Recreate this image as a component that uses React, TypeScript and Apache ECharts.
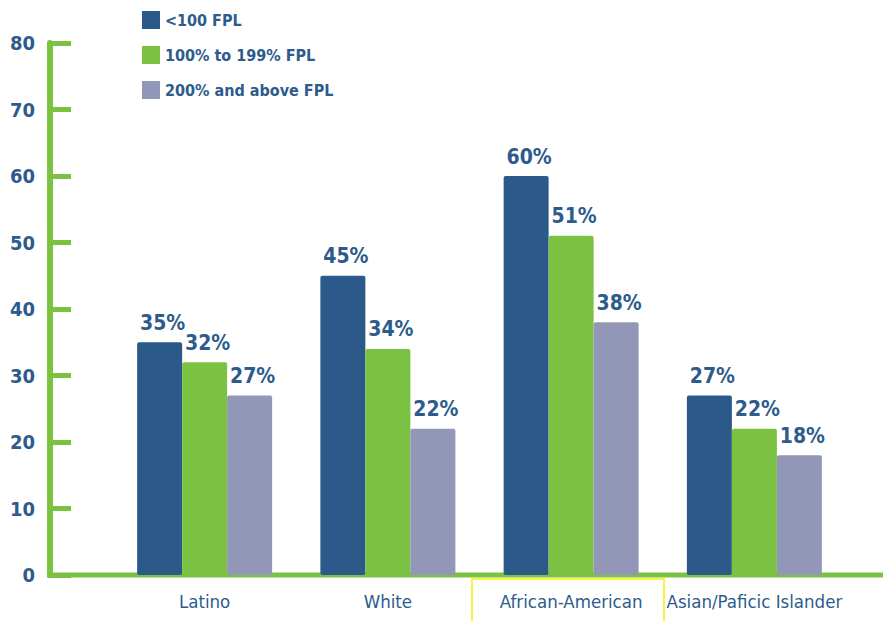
import React, { useEffect, useRef } from "react";
import * as echarts from "echarts";

const categories = ["Latino", "White", "African-American", "Asian/Paficic Islander"];
const seriesNames = ["<100 FPL", "100% to 199% FPL", "200% and above FPL"];
const below100 = [35, 45, 60, 27];
const from100to199 = [32, 34, 51, 22];
const above200 = [27, 22, 38, 18];
const yTicks = [0, 10, 20, 30, 40, 50, 60, 70, 80];

const BLUE = "#2b5a8a";
const GREEN = "#7bc142";
const GRAY = "#9297b7";
const TEXT = "#2d5b8c";
const FONT = "'DejaVu Sans Condensed', 'Liberation Sans Narrow', sans-serif";

export default function App() {
  const ref = useRef<HTMLDivElement>(null);
  useEffect(() => {
    if (!ref.current) return;
    const chart = echarts.init(ref.current, null, { renderer: "svg" });
    const label = {
      show: true,
      position: "top",
      distance: 9,
      formatter: "{c}%",
      color: TEXT,
      fontFamily: FONT,
      fontSize: 21,
      fontWeight: "bold",
      offset: [3, 0],
    };
    const mk = (name: string, data: number[], color: string) => ({
      name,
      type: "bar",
      data,
      barWidth: 45,
      barGap: "0%",
      itemStyle: { color, borderRadius: [2, 2, 2, 2] },
      label,
      z: 3,
    });
    chart.setOption({
      animation: false,
      backgroundColor: "#ffffff",
      textStyle: { fontFamily: FONT },
      legend: {
        orient: "vertical",
        left: 137,
        top: 6,
        itemWidth: 18,
        itemHeight: 18,
        itemGap: 17,
        icon: "rect",
        textStyle: { color: TEXT, fontFamily: FONT, fontSize: 16, fontWeight: "bold" },
        data: seriesNames,
      },
      grid: { left: 113, right: 37, top: 43, bottom: 46 },
      xAxis: {
        type: "category",
        data: categories,
        axisLine: { show: false },
        axisTick: { show: false },
        axisLabel: {
          color: TEXT,
          fontFamily: FONT,
          fontSize: 18.5,
          margin: 17,
          interval: 0,
          hideOverlap: false,
        },
      },
      yAxis: {
        type: "value",
        min: 0,
        max: 80,
        interval: 10,
        offset: 63,
        splitLine: { show: false },
        axisLine: { show: true, lineStyle: { color: GREEN, width: 6 } },
        axisTick: { show: true, inside: true, length: 21, lineStyle: { color: GREEN, width: 5 } },
        axisLabel: {
          color: TEXT,
          fontFamily: FONT,
          fontSize: 20,
          fontWeight: "bold",
          margin: 15,
          padding: [12, 0, 0, 0],
          formatter: (v: number) => (yTicks.includes(v) ? String(v) : ""),
        },
      },
      graphic: [
        {
          type: "line",
          z: 1,
          shape: { x1: 47, y1: 575, x2: 883, y2: 575 },
          style: { stroke: GREEN, lineWidth: 5 },
        },
        {
          type: "polyline",
          z: 1,
          shape: { points: [[472, 621], [472, 579], [664, 579], [664, 621]] },
          style: { stroke: "#f5f000", lineWidth: 1.5, fill: null },
        },
      ],
      series: [
        mk(seriesNames[0], below100, BLUE),
        mk(seriesNames[1], from100to199, GREEN),
        mk(seriesNames[2], above200, GRAY),
      ],
    });
    return () => chart.dispose();
  }, []);
  return <div ref={ref} style={{ width: 883, height: 621, position: "absolute", left: 0, top: 0 }} />;
}
